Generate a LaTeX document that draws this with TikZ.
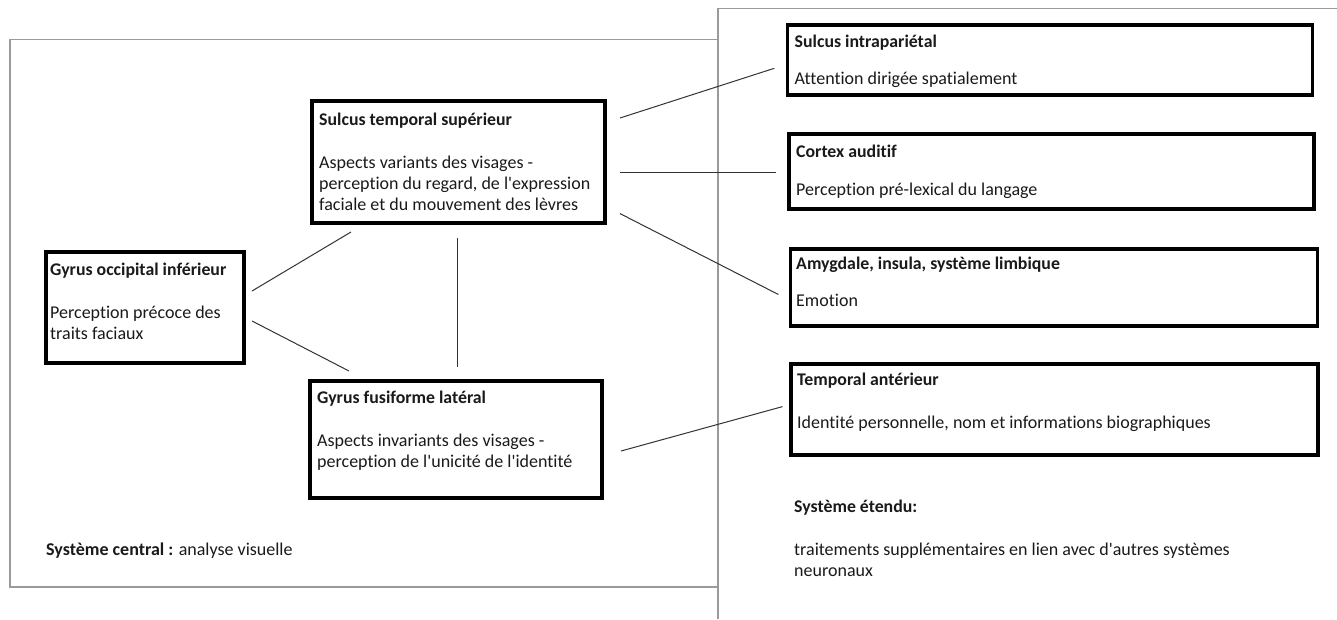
\documentclass[tikz,border=0pt]{standalone}
\usepackage{fontspec}
\setmainfont{Carlito}[Ligatures={TeXOff,NoCommon}]
\usetikzlibrary{positioning}
\definecolor{txt}{HTML}{1A1A1A}
\definecolor{frame}{HTML}{9A9A9A}
\definecolor{conn}{HTML}{333333}
\tikzset{
  box/.style={draw=black, line width=3.5pt, inner sep=0pt, fill=white},
  lbl/.style={anchor=base west, inner sep=0pt, text=txt, font=\fontsize{18}{21.3}\selectfont},
  ttl/.style={lbl, font=\fontsize{17.8}{21.3}\selectfont\bfseries},
  link/.style={draw=conn, line width=1pt},
  frm/.style={draw=frame, line width=1.5pt}
}
\begin{document}
\begin{tikzpicture}[x=1pt,y=-1pt]
\useasboundingbox[fill=white] (0,0) rectangle (1337,619);
% frames
\draw[frm] (10,39.5) rectangle (718,587);
\draw[frm] (1337,8.7) -- (718,8.7) -- (718,619);
% boxes
\node[box, minimum width=293pt, minimum height=122pt] (sts) at (458.5,162) {};
\node[box, minimum width=198pt, minimum height=111pt] (goi) at (144.8,307.5) {};
\node[box, minimum width=292pt, minimum height=117pt] (gfl) at (456,439.5) {};
\node[box, minimum width=525pt, minimum height=70pt] (sip) at (1050.2,59.9) {};
\node[box, minimum width=525pt, minimum height=75pt] (ca) at (1051.4,171.5) {};
\node[box, minimum width=527pt, minimum height=77pt] (amy) at (1053.8,287.5) {};
\node[box, minimum width=527pt, minimum height=91pt] (ta) at (1054.4,409.5) {};
% connector ends
\coordinate (g1) at (252,291); \coordinate (s1) at (351,232);
\coordinate (g2) at (252,321); \coordinate (f1) at (349,371);
\coordinate (s2) at (457,238); \coordinate (f2) at (457,367);
\coordinate (s3) at (620,118); \coordinate (p1) at (774.3,68.3);
\coordinate (s4) at (620,172.5); \coordinate (a1) at (776.4,172.5);
\coordinate (s5) at (620,213.6); \coordinate (m1) at (778.4,294.5);
\coordinate (f3) at (621,451); \coordinate (t1) at (782.5,406.6);
\draw[link] (g1) -- (s1);
\draw[link] (g2) -- (f1);
\draw[link] (s2) -- (f2);
\draw[link] (s3) -- (p1);
\draw[link] (s4) -- (a1);
\draw[link] (s5) -- (m1);
\draw[link] (f3) -- (t1);
% texts
\node[ttl] (stsT) at (319,125) {Sulcus temporal supérieur};
\node[lbl] (stsA) at (319,168) {Aspects variants des visages -};
\node[lbl] (stsB) at (319,189.3) {perception du regard, de l'expression};
\node[lbl] (stsC) at (319,210.6) {faciale et du mouvement des lèvres};
\node[ttl] (goiT) at (50,275.5) {Gyrus occipital inférieur};
\node[lbl] (goiA) at (50,318.5) {Perception précoce des};
\node[lbl] (goiB) at (50,339.8) {traits faciaux};
\node[ttl] (gflT) at (317,403.5) {Gyrus fusiforme latéral};
\node[lbl] (gflA) at (317,446.5) {Aspects invariants des visages -};
\node[lbl] (gflB) at (317,467.8) {perception de l'unicité de l'identité};
\node[ttl] (sipT) at (794.5,47.5) {Sulcus intrapariétal};
\node[lbl] (sipA) at (794.5,84.5) {Attention dirigée spatialement};
\node[ttl] (caT) at (796,157.5) {Cortex auditif};
\node[lbl] (caA) at (796,195) {Perception pré-lexical du langage};
\node[ttl] (amyT) at (796,269) {Amygdale, insula, système limbique};
\node[lbl] (amyA) at (796,306) {Emotion};
\node[ttl] (taT) at (797,385.5) {Temporal antérieur};
\node[lbl] (taA) at (797,428.5) {Identité personnelle, nom et informations biographiques};
\node[ttl] (extT) at (794,512.5) {Système étendu:};
\node[lbl] (extA) at (794,555.5) {traitements supplémentaires en lien avec d'autres systèmes};
\node[lbl] (extB) at (794,576.8) {neuronaux};
\node[lbl] (cen) at (46,555.5) {\textbf{Système central :} analyse visuelle};
\end{tikzpicture}
\end{document}
